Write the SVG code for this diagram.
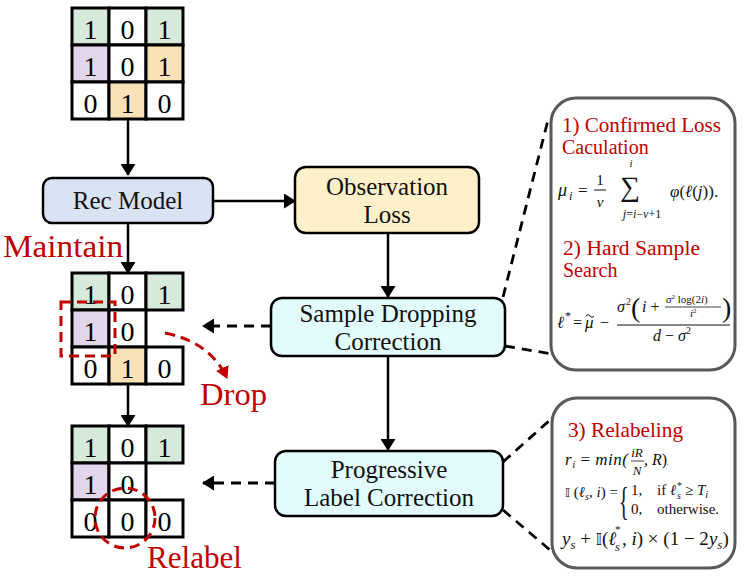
<svg xmlns="http://www.w3.org/2000/svg" width="747" height="578" viewBox="0 0 747 578">
<defs>
<style>
.cell{stroke:#000;stroke-width:3}
.w{fill:#fff}.gr{fill:#d5eadb}.pu{fill:#e2d6ea}.or{fill:#f9e1b8}
.dg{font-family:"Liberation Serif",serif;font-size:28px;text-anchor:middle;fill:#000}
.box{stroke:#000;stroke-width:2.5}
.lbl{font-family:"Liberation Serif",serif;font-size:25px;text-anchor:middle;fill:#111}
.red{font-family:"Liberation Serif",serif;fill:#c00000}
.arr{stroke:#000;stroke-width:2.5;fill:none}
.dash{stroke:#000;stroke-width:2.8;fill:none;stroke-dasharray:10 7}
.rdash{stroke:#c00000;stroke-width:3;fill:none;stroke-dasharray:10 6}
.panel{fill:#fff;stroke:#595959;stroke-width:3}
.mi{font-family:"Liberation Serif",serif;font-style:italic;fill:#111}
.mn{font-family:"Liberation Serif",serif;fill:#111}
.bb{font-family:"DejaVu Sans",sans-serif;font-style:normal}
</style>
<marker id="ah" viewBox="0 0 12 15" refX="11" refY="7.5" markerWidth="12" markerHeight="15" markerUnits="userSpaceOnUse" orient="auto"><path d="M0,0 L12,7.5 L0,15 z" fill="#000"/></marker>
<marker id="ahr" viewBox="0 0 12 14" refX="11" refY="7" markerWidth="12" markerHeight="14" markerUnits="userSpaceOnUse" orient="auto"><path d="M0,0 L12,7 L0,14 z" fill="#c00000"/></marker>
</defs>

<g id="grid-input">
<rect class="cell gr" x="72" y="8" width="37" height="37"/><rect class="cell w" x="109" y="8" width="37" height="37"/><rect class="cell gr" x="146" y="8" width="37" height="37"/>
<rect class="cell pu" x="72" y="45" width="37" height="37"/><rect class="cell w" x="109" y="45" width="37" height="37"/><rect class="cell or" x="146" y="45" width="37" height="37"/>
<rect class="cell w" x="72" y="82" width="37" height="37"/><rect class="cell or" x="109" y="82" width="37" height="37"/><rect class="cell w" x="146" y="82" width="37" height="37"/>
<text class="dg" x="90.5" y="39">1</text><text class="dg" x="127.5" y="39">0</text><text class="dg" x="164.5" y="39">1</text>
<text class="dg" x="90.5" y="76">1</text><text class="dg" x="127.5" y="76">0</text><text class="dg" x="164.5" y="76">1</text>
<text class="dg" x="90.5" y="113">0</text><text class="dg" x="127.5" y="113">1</text><text class="dg" x="164.5" y="113">0</text>
</g>

<g id="grid-dropped">
<rect class="cell gr" x="72" y="273" width="37" height="37"/><rect class="cell w" x="109" y="273" width="37" height="37"/><rect class="cell gr" x="146" y="273" width="37" height="37"/>
<rect class="cell pu" x="72" y="310" width="37" height="37"/><rect class="cell w" x="109" y="310" width="37" height="37"/>
<rect class="cell w" x="72" y="347" width="37" height="37"/><rect class="cell or" x="109" y="347" width="37" height="37"/><rect class="cell w" x="146" y="347" width="37" height="37"/>
<text class="dg" x="90.5" y="304">1</text><text class="dg" x="127.5" y="304">0</text><text class="dg" x="164.5" y="304">1</text>
<text class="dg" x="90.5" y="341">1</text><text class="dg" x="127.5" y="341">0</text>
<text class="dg" x="90.5" y="378">0</text><text class="dg" x="127.5" y="378">1</text><text class="dg" x="164.5" y="378">0</text>
<rect class="rdash" x="61" y="302" width="54" height="54"/>
</g>

<g id="grid-relabeled">
<rect class="cell gr" x="72" y="426" width="37" height="37"/><rect class="cell w" x="109" y="426" width="37" height="37"/><rect class="cell gr" x="146" y="426" width="37" height="37"/>
<rect class="cell pu" x="72" y="463" width="37" height="37"/><rect class="cell w" x="109" y="463" width="37" height="37"/>
<rect class="cell w" x="72" y="500" width="37" height="37"/><rect class="cell w" x="109" y="500" width="37" height="37"/><rect class="cell w" x="146" y="500" width="37" height="37"/>
<text class="dg" x="90.5" y="457">1</text><text class="dg" x="127.5" y="457">0</text><text class="dg" x="164.5" y="457">1</text>
<text class="dg" x="90.5" y="494">1</text><text class="dg" x="127.5" y="494">0</text>
<text class="dg" x="90.5" y="531">0</text><text class="dg" x="127.5" y="531">0</text><text class="dg" x="164.5" y="531">0</text>
<circle class="rdash" cx="125" cy="518" r="30"/>
</g>

<g id="rec-model">
<rect class="box" x="43" y="178" width="170" height="45" rx="9" fill="#dae3f3"/>
<text class="lbl" x="128" y="209">Rec Model</text>
</g>
<g id="observation-loss">
<rect class="box" x="295" y="167" width="184" height="66" rx="11" fill="#fff0c9"/>
<text class="lbl" x="387" y="195">Observation</text>
<text class="lbl" x="387" y="223">Loss</text>
</g>
<g id="sample-dropping">
<rect class="box" x="271" y="298" width="234" height="58" rx="11" fill="#e2fbfd"/>
<text class="lbl" x="388" y="322">Sample Dropping</text>
<text class="lbl" x="388" y="350">Correction</text>
</g>
<g id="progressive-label">
<rect class="box" x="275" y="451" width="228" height="65" rx="11" fill="#e2fbfd"/>
<text class="lbl" x="389" y="478">Progressive</text>
<text class="lbl" x="389" y="506">Label Correction</text>
</g>

<g id="labels">
<text class="red" x="3" y="257" font-size="31" textLength="120" lengthAdjust="spacingAndGlyphs">Maintain</text>
<text class="red" x="200" y="405" font-size="31" textLength="67" lengthAdjust="spacingAndGlyphs">Drop</text>
<text class="red" x="147" y="568" font-size="31" textLength="95" lengthAdjust="spacingAndGlyphs">Relabel</text>
</g>

<g id="connectors">
<line class="arr" x1="128" y1="120" x2="128" y2="175" marker-end="url(#ah)"/>
<line class="arr" x1="128" y1="223" x2="128" y2="273" marker-end="url(#ah)"/>
<line class="arr" x1="128" y1="385" x2="128" y2="426" marker-end="url(#ah)"/>
<line class="arr" x1="213" y1="201" x2="295" y2="201" marker-end="url(#ah)"/>
<line class="arr" x1="388" y1="233" x2="388" y2="297" marker-end="url(#ah)"/>
<line class="arr" x1="388" y1="356" x2="388" y2="450" marker-end="url(#ah)"/>
<line class="dash" x1="271" y1="326" x2="203" y2="326" marker-end="url(#ah)"/>
<line class="dash" x1="275" y1="483" x2="203" y2="483" marker-end="url(#ah)"/>
<path class="rdash" d="M165,333 Q210,342 227,378" marker-end="url(#ahr)"/>
<line class="dash" x1="503" y1="297" x2="548" y2="120"/>
<line class="dash" x1="505" y1="346" x2="552" y2="354"/>
<line class="dash" x1="503" y1="462" x2="550" y2="420"/>
<line class="dash" x1="503" y1="510" x2="550" y2="550"/>
</g>

<g id="panel-dropping">
<rect class="panel" x="551" y="98" width="184" height="272" rx="25"/>
<text class="red" x="562" y="132" font-size="20" textLength="159" lengthAdjust="spacingAndGlyphs">1) Confirmed Loss</text>
<text class="red" x="562" y="154" font-size="20">Caculation</text>
<text class="mi" x="558" y="196" font-size="18">μ</text><text class="mi" x="569" y="200" font-size="12">i</text>
<text class="mn" x="578" y="196" font-size="17">=</text>
<text class="mn" x="600" y="185" font-size="15" text-anchor="middle">1</text>
<line x1="594" y1="190" x2="606" y2="190" stroke="#111" stroke-width="1"/>
<text class="mi" x="600" y="207" font-size="15" text-anchor="middle">v</text>
<text class="mn" x="630" y="196" font-size="28" text-anchor="middle">∑</text>
<text class="mi" x="631" y="167" font-size="11" text-anchor="middle">i</text>
<text class="mi" x="642" y="218" font-size="12" text-anchor="middle">j<tspan font-style="normal">=</tspan>i<tspan font-style="normal">−</tspan>v<tspan font-style="normal">+1</tspan></text>
<text class="mi" x="670" y="197" font-size="17">φ<tspan font-style="normal">(</tspan>ℓ<tspan font-style="normal">(</tspan>j<tspan font-style="normal">)).</tspan></text>

<text class="red" x="563" y="255" font-size="20" textLength="137" lengthAdjust="spacingAndGlyphs">2) Hard Sample</text>
<text class="red" x="563" y="277" font-size="20">Search</text>
<text class="mi" x="557" y="328" font-size="17">ℓ</text><text class="mn" x="565" y="320" font-size="12">*</text>
<text class="mn" x="573" y="328" font-size="16">=</text>
<text class="mi" x="585" y="328" font-size="17">μ</text>
<path d="M586,316 q2,-3 4,0 t4,0" stroke="#111" stroke-width="1" fill="none"/>
<text class="mn" x="600" y="328" font-size="16">−</text>
<text class="mi" x="617" y="312" font-size="16">σ</text><text class="mn" x="626" y="305" font-size="10">2</text>
<text class="mn" x="631" y="317" font-size="28">(</text>
<text class="mi" x="642" y="312" font-size="16">i <tspan font-style="normal">+</tspan></text>
<text class="mi" x="666" y="303" font-size="11">σ<tspan font-style="normal" font-size="7" dy="-4">2</tspan><tspan font-style="normal" dy="4"> log(2</tspan>i<tspan font-style="normal">)</tspan></text>
<line x1="665" y1="307" x2="721" y2="307" stroke="#111" stroke-width="0.8"/>
<text class="mi" x="690" y="317" font-size="11">i<tspan font-style="normal" font-size="7" dy="-4">2</tspan></text>
<text class="mn" x="722" y="317" font-size="28">)</text>
<line x1="617" y1="325" x2="730" y2="325" stroke="#111" stroke-width="1"/>
<text class="mi" x="672" y="341" font-size="16" text-anchor="middle">d <tspan font-style="normal">−</tspan> σ<tspan font-style="normal" font-size="10" dy="-7">2</tspan></text>
</g>

<g id="panel-relabeling">
<rect class="panel" x="552" y="398" width="183" height="170" rx="25"/>
<text class="red" x="568" y="437" font-size="21" textLength="115" lengthAdjust="spacingAndGlyphs">3) Relabeling</text>
<text class="mi" x="565" y="465" font-size="17" textLength="63" lengthAdjust="spacing">r<tspan font-size="11" dy="3">i</tspan><tspan font-style="normal" dy="-3"> = </tspan>min(</text>
<text class="mi" x="637" y="457" font-size="13" text-anchor="middle">iR</text>
<line x1="631" y1="461" x2="644" y2="461" stroke="#111" stroke-width="0.8"/>
<text class="mi" x="637" y="475" font-size="13" text-anchor="middle">N</text>
<text class="mi" x="644" y="465" font-size="16">, R<tspan font-style="normal">)</tspan><tspan font-style="normal" font-size="6">.</tspan></text>
<text class="mn" x="565" y="497" font-size="15"><tspan class="bb" font-size="13">𝕀</tspan> (<tspan font-style="italic">ℓ</tspan><tspan font-style="italic" font-size="10" dy="3">s</tspan><tspan dy="-3">, </tspan><tspan font-style="italic">i</tspan>) =</text>
<text class="mn" x="619" y="515" font-size="40" transform="translate(619 515) scale(0.5 1) translate(-619 -515)">{</text>
<text class="mn" x="631" y="495" font-size="15">1,</text>
<text class="mn" x="657" y="495" font-size="15">if <tspan font-style="italic">ℓ</tspan></text>
<text class="mn" x="677" y="489" font-size="10">*</text><text class="mi" x="677" y="499" font-size="10">s</text>
<text class="mn" x="685" y="495" font-size="15">≥ <tspan font-style="italic">T</tspan><tspan font-style="italic" font-size="10" dy="3">i</tspan></text>
<text class="mn" x="631" y="514" font-size="15">0,</text>
<text class="mn" x="657" y="514" font-size="15">otherwise.</text>
<text class="mi" x="562" y="545" font-size="19">y<tspan font-size="13" dy="4">s</tspan><tspan font-style="normal" dy="-4"> + </tspan><tspan class="bb" font-size="16">𝕀</tspan><tspan font-style="normal">(</tspan>ℓ</text>
<text class="mn" x="615" y="533" font-size="11">*</text><text class="mi" x="615" y="551" font-size="12">s</text>
<text class="mi" x="622" y="545" font-size="19"><tspan font-style="normal">, </tspan>i<tspan font-style="normal">) × (1 − 2</tspan>y<tspan font-size="13" dy="4">s</tspan><tspan font-style="normal" dy="-4">)</tspan></text>
</g>
</svg>
